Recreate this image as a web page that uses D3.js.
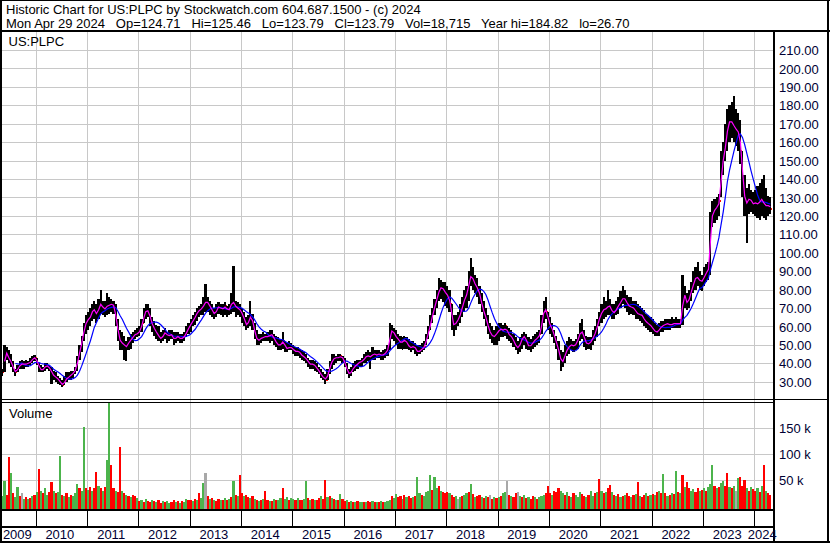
<!DOCTYPE html>
<html>
<head>
<meta charset="utf-8">
<script src="https://cdn.jsdelivr.net/npm/d3@7"></script>
<style>
body { margin: 0; background: #fff; }
svg { display: block; font-family: "Liberation Sans", Arial, sans-serif; font-size: 13px; }
</style>
</head>
<body>
<svg id="chart" width="830" height="543"></svg>
<script>
// semi-monthly bars, first = 1st half of May 2009, last = 2nd half of Apr 2024
var hi = [
  37,50,49,47,45,41,37,39,41,42,41,42,41,43,44,44.5,                       // 2009
  43,40,39,38,40,40,39,38,36,35,33,32,31,33,35,35,36,36,38,44,50,55,62,66, // 2010
  68,70,72,74,72,75,80,74,74,78,76,75,74,72,64,58,57,55,52,54,56,57,58,59, // 2011
  60,64,70,72,72,70,65,63,61,60,57,58,59,57,58,58,57,57,57,56,56,57,60,62, // 2012
  64,66,68,70,71,72,76,83,76,74,72,70,72,73,72,72,73,71,72,78,93,74,73,72, // 2013
  70,68,65,66,74,67,62,58,56,56,57,56,57,58,58,56,55,54,53,57,52,51,52,51, // 2014
  50,49,49,48,47,46,45,43,42,42,41,40,38,37,35,34,37,41,45,45,44,45,45,44, // 2015
  43,40,37,38,40,41,42,42,43,45,46,47,46,49,47,47,47,46,47,48,50,62,61,59, // 2016
  58,56,55,54,55,54,53,52,52,51,50,50,51,52,56,60,66,70,75,80,86,85,84,84, // 2017
  82,80,72,66,66,68,72,76,80,82,90,97,92,88,86,82,78,74,70,66,62,60,58,60, // 2018
  62,62,61,62,60,59,58,56,54,52,54,56,57,56,54,53,55,56,57,58,66,74,76,68, // 2019
  65,62,58,55,52,47,46,50,52,54,53,52,53,56,62,64,58,55,54,54,58,60,64,68, // 2020
  72,76,74,80,75,72,72,74,76,79,82,80,77,76,76,74,74,72,71,70,69,67,66,65, // 2021
  64,62,61,62,63,63,64,64,64,65,64,65,64,64,88,82,78,80,84,90,92,95,90,88, // 2022
  92,94,95,122,128,129,130,132,155,160,170,178,180,182,185,178,176,172,155,142,135,137,134,133, // 2023
  134,136,138,140,142,135,131,130                                          // 2024
];
var lo = [
  33,35,42,40,38,35,33,35,37,37,37,38,38,39,40,41,
  39,35,35,35,36,37,36,29,31,30,29,28,27,28,30,31,31,32,34,36,42,46,52,56,
  58,60,63,64,62,64,67,66,65,66,67,68,67,60,52,47,47,42,41,47,48,51,53,54,
  55,57,62,64,65,60,57,55,53,52,51,52,53,51,52,53,50,51,52,51,51,52,54,56,
  57,60,61,63,65,66,66,68,68,66,65,64,65,67,66,65,66,65,66,67,68,65,66,65,
  62,60,58,59,60,58,53,50,50,51,52,52,52,51,52,50,49,47,47,48,46,46,47,47,
  45,44,44,43,42,41,40,38,37,37,36,35,34,32,31,29,31,34,37,39,40,41,41,40,
  38,34,32,33,35,36,37,38,38,40,40,41,37,42,42,43,43,42,42,43,44,47,53,52,
  50,48,48,47,48,48,47,46,47,45,44,45,46,47,50,53,58,62,66,70,74,75,73,71,
  70,68,58,55,58,60,62,65,68,70,74,82,80,78,76,72,68,64,60,56,53,51,50,50,
  52,54,54,55,53,52,51,49,47,45,46,48,50,48,47,46,48,49,50,51,56,62,64,58,
  56,54,51,48,42,36,38,40,44,45,47,46,47,48,52,53,49,47,48,47,50,52,54,60,
  62,64,65,66,66,64,64,66,67,70,72,70,68,66,67,66,64,64,63,62,60,59,58,57,
  56,55,55,55,57,57,58,58,58,59,59,59,59,59,61,70,69,70,74,78,80,82,80,79,
  82,84,85,88,114,116,118,120,130,142,150,155,160,162,160,158,155,148,130,120,105,121,122,121,
  120,119,118,120,119,118,120,121
];
var cl = [
  35,47,44,42,40,36,35,38,39,40,39,40,40,41,43,43,
  40,37,36,37,39,38,37,34,33,32,31,29,28,31,32,33,34,35,37,43,48,53,60,63,
  64,66,70,68,66,72,72,69,70,72,71,73,70,62,55,50,52,48,50,52,53,55,56,56,
  58,62,67,69,68,63,60,58,56,54,53,56,57,54,56,55,52,55,54,53,54,55,58,60,
  62,64,66,68,69,70,72,74,72,70,68,66,70,71,69,70,71,68,70,74,72,70,70,68,
  66,62,60,64,66,60,55,52,53,54,54,55,54,56,55,52,51,49,51,52,48,48,49,48,
  47,46,47,45,44,43,42,40,39,40,38,37,35,33,32,31,35,39,42,43,43,43,44,42,
  39,35,34,36,38,39,40,41,41,43,44,44,43,46,44,45,45,44,45,46,48,57,58,55,
  54,52,51,52,53,50,49,48,50,47,46,47,48,49,54,58,63,68,72,77,80,82,79,78,
  76,72,62,60,63,64,68,72,76,78,86,88,84,82,80,76,70,67,63,58,56,54,55,57,
  58,59,57,60,56,55,54,51,49,48,52,54,55,50,49,50,52,53,54,56,64,70,68,62,
  60,57,53,50,45,40,42,46,48,50,50,49,51,54,58,56,52,50,51,52,55,57,62,66,
  68,70,69,72,70,67,68,70,72,74,76,74,72,70,71,69,68,66,67,65,63,62,61,60,
  58,57,57,59,60,61,61,62,60,62,61,62,61,62,80,74,72,77,80,85,87,86,84,85,
  88,90,92,118,122,124,125,128,148,152,162,170,172,170,168,166,165,155,135,126,128,130,127,126,
  128,125,130,128,126,125,126,123.79
];
// peak daily volume in each half month, thousands of shares
var volK = [
  20,48,22,94,65,25,18,38,20,25,15,18,14,16,20,22,
  28,72,30,25,35,22,28,46,30,25,28,97,22,20,25,18,22,20,25,42,35,30,152,35,
  32,38,30,35,66,40,35,30,38,89,200,80,35,30,28,114,30,25,22,20,18,22,20,16,
  10,13,9,15,11,8,13,10,8,12,7,10,8,11,7,9,13,8,10,7,11,8,15,12,
  12,10,15,13,25,16,44,65,20,14,16,13,11,15,13,12,16,13,15,18,49,22,20,60,
  25,20,22,18,16,19,14,13,11,12,14,30,13,11,10,14,13,12,16,35,14,18,13,16,
  14,13,16,12,13,14,49,16,13,14,12,13,16,19,14,51,18,20,16,14,13,12,24,14,
  10,13,9,11,8,9,10,8,9,9,8,10,9,11,8,8,9,10,8,9,10,12,20,16,
  24,18,20,15,22,18,20,16,18,20,56,25,22,20,28,30,60,32,57,35,40,30,28,25,
  28,25,22,18,20,15,18,20,22,25,28,42,24,18,20,22,18,16,20,18,22,15,18,16,
  18,20,25,28,49,22,20,18,25,28,20,18,22,16,18,15,20,17,15,18,20,22,25,40,
  25,22,30,28,35,30,25,22,28,20,18,25,22,18,28,24,20,18,22,30,20,26,28,53,
  30,25,28,35,41,28,22,20,24,18,20,22,25,20,18,22,24,46,20,18,22,25,20,22,
  24,22,28,30,26,62,25,20,22,26,24,67,28,25,61,38,46,35,30,33,28,35,30,32,
  35,30,38,42,80,40,35,38,45,49,40,65,38,35,40,30,55,56,40,51,35,30,38,33,
  30,35,28,40,80,30,25,22
];
// g = up, r = down, n = unchanged
var volDir = [
  'ggrrgrggrngrgrgr',
  'grgrggrrgrggrgrgrgggrggr',
  'grgrrgrgrggrrgrrgrgrgrrg',
  'rgrgrrgrgrrgrggrrgrgrggr',
  'rgrgrggnrgrgrrgrgrgrgrgr',
  'rgrrgrgrgrgrrgrgrggrggrg',
  'grgrrggrgrgrrgrrgrgrgrgr',
  'rgrgrgrggrgrrgrgrgrgggrg',
  'grrgrgrrgrggrggggrggrgrr',
  'rgrrgngrggrgrgrrgrgrnrgr',
  'grggnrgrrngrgrgrrgrgggrr',
  'rgrrrggrgrgrgggrrgrggrgr',
  'grgrrgrgrgrgrrgrgrgrrgrg',
  'rgrgrgrgrgrgrgrgrrggrrgr',
  'grgggrgrggrrgrgngrrrgrgr',
  'rgrgrgrr'
].join('').split('');

var priceTicks = d3.range(30, 211, 10);
var volTicks = [50, 100, 150];
var yearLabels = d3.range(2009, 2025);

var header1 = 'Historic Chart for US:PLPC by Stockwatch.com 604.687.1500 - (c) 2024';
var header2 = 'Mon Apr 29 2024   Op=124.71   Hi=125.46   Lo=123.79   Cl=123.79   Vol=18,715   Year hi=184.82   lo=26.70';

var width = 830, height = 543;
var left = 2, axisX = 773;
var priceTop = 32, priceBot = 400, volTop = 403, volBot = 509;

var svg = d3.select('#chart');

var x = d3.scaleTime().domain([new Date(2010, 0, 1), new Date(2024, 0, 1)]).range([35.7, 754.3]);
var y = d3.scaleLinear().domain([30, 210]).range([381.7, 381.7 - 180 * 1.843]);
var yv = d3.scaleLinear().domain([0, 150]).range([506.3, 428.3]);

function periodStart(i) {
    var m = 4 + Math.floor(i / 2);
    return new Date(2009 + Math.floor(m / 12), m % 12, i % 2 ? 16 : 1);
}

var bars = hi.map(function (h, i) {
    return { i: i, t0: periodStart(i), t1: periodStart(i + 1), hi: h, lo: lo[i], cl: cl[i], v: volK[i], dir: volDir[i] };
});

function movAvg(vals, n) {
    return vals.map(function (v, i) {
        return d3.mean(vals.slice(Math.max(0, i - n + 1), i + 1));
    });
}
var maFast = movAvg(cl, 2);
var maSlow = movAvg(cl, 9);

svg.append('rect').attr('width', width).attr('height', height).attr('fill', '#fff');

// clip areas
var defs = svg.append('defs');
defs.append('clipPath').attr('id', 'clipP').append('rect')
    .attr('x', left).attr('y', priceTop).attr('width', axisX - left).attr('height', priceBot - priceTop);
defs.append('clipPath').attr('id', 'clipV').append('rect')
    .attr('x', left).attr('y', volTop).attr('width', axisX - left).attr('height', volBot - volTop);

// grid
var grid = svg.append('g').attr('stroke', '#c8c8c8').attr('stroke-width', 1).attr('shape-rendering', 'crispEdges');
var years = d3.timeYear.range(new Date(2010, 0, 1), new Date(2025, 0, 1));
grid.selectAll('.vg').data(years).enter().append('line')
    .attr('x1', d => Math.round(x(d)) + 0.5).attr('x2', d => Math.round(x(d)) + 0.5)
    .attr('y1', priceTop).attr('y2', volBot);
grid.selectAll('.hg').data(priceTicks).enter().append('line')
    .attr('x1', left).attr('x2', axisX)
    .attr('y1', d => Math.round(y(d)) + 0.5).attr('y2', d => Math.round(y(d)) + 0.5);
grid.selectAll('.hv').data(volTicks).enter().append('line')
    .attr('x1', left).attr('x2', axisX)
    .attr('y1', d => Math.round(yv(d)) + 0.5).attr('y2', d => Math.round(yv(d)) + 0.5);

// price bars: red close ticks stick out to the right, the next bar covers most of them
var pg = svg.append('g').attr('clip-path', 'url(#clipP)');
pg.append('g').attr('shape-rendering', 'crispEdges').selectAll('rect').data(bars).enter().append('rect')
    .attr('x', d => x(d.t1) - 0.5)
    .attr('width', 1.6)
    .attr('y', d => y(d.cl) - 1)
    .attr('height', 2)
    .attr('fill', '#ff0000');
pg.append('g').attr('shape-rendering', 'crispEdges').selectAll('rect').data(bars).enter().append('rect')
    .attr('x', d => x(d.t0))
    .attr('width', d => x(d.t1) - x(d.t0))
    .attr('y', d => y(d.hi))
    .attr('height', d => Math.max(1, y(d.lo) - y(d.hi)))
    .attr('fill', '#000');

var maLine = function (vals, start) {
    return d3.line()
        .defined((d, i) => i >= start)
        .x(d => x(d.t1) - 1)
        .y((d, i) => y(vals[i]));
};
pg.append('path').datum(bars).attr('d', maLine(maSlow, 6))
    .attr('fill', 'none').attr('stroke', '#0000ff').attr('stroke-width', 1.2);
pg.append('path').datum(bars).attr('d', maLine(maFast, 1))
    .attr('fill', 'none').attr('stroke', '#ff00ff').attr('stroke-width', 1.2);

// volume bars
var volColor = { g: '#4cb44c', r: '#ff0000', n: '#a8a8a8' };
svg.append('g').attr('clip-path', 'url(#clipV)').attr('shape-rendering', 'crispEdges')
    .selectAll('rect').data(bars).enter().append('rect')
    .attr('x', d => x(d.t0))
    .attr('width', d => x(d.t1) - x(d.t0))
    .attr('y', d => yv(d.v))
    .attr('height', d => volBot - yv(d.v))
    .attr('fill', d => volColor[d.dir]);

// frame lines
var frame = svg.append('g').attr('fill', '#000').attr('shape-rendering', 'crispEdges');
frame.append('rect').attr('x', 0).attr('y', 0).attr('width', 2).attr('height', height);
frame.append('rect').attr('x', 0).attr('y', 0).attr('width', width).attr('height', 1);
frame.append('rect').attr('x', 827).attr('y', 0).attr('width', 2).attr('height', height);
frame.append('rect').attr('x', 0).attr('y', 541).attr('width', width).attr('height', 2);
frame.append('rect').attr('x', 0).attr('y', 30).attr('width', width).attr('height', 2);
frame.append('rect').attr('x', axisX).attr('y', priceTop).attr('width', 2).attr('height', 541 - priceTop);
frame.append('rect').attr('x', left).attr('y', 399).attr('width', 827 - left).attr('height', 1);
frame.append('rect').attr('x', left).attr('y', 402).attr('width', axisX - left).attr('height', 1);
frame.append('rect').attr('x', left).attr('y', volBot).attr('width', axisX - left).attr('height', 2);
frame.append('rect').attr('x', left).attr('y', 526).attr('width', axisX - left).attr('height', 2);
frame.selectAll('.tk').data(years.filter(d => x(d) < axisX)).enter().append('rect')
    .attr('x', d => Math.round(x(d))).attr('y', volBot).attr('width', 1).attr('height', 526 - volBot);

// right axes
var priceAxis = svg.append('g').attr('transform', `translate(${axisX + 6},0)`)
    .call(d3.axisRight(y).tickValues(priceTicks).tickFormat(d3.format('.2f')).tickSize(0).tickPadding(0));
var volAxis = svg.append('g').attr('transform', `translate(${axisX + 6},0)`)
    .call(d3.axisRight(yv).tickValues(volTicks).tickFormat(d => d + ' k').tickSize(0).tickPadding(0));
[priceAxis, volAxis].forEach(function (a) {
    a.select('.domain').remove();
    a.attr('font-family', null).attr('font-size', null);
    a.selectAll('text').attr('fill', '#000033').attr('dy', '0.36em');
});

// year labels
var bounds = [left].concat(years.map(d => x(d)).filter(v => v < axisX), [axisX]);
svg.append('g').selectAll('text').data(yearLabels).enter().append('text')
    .attr('x', (d, i) => (bounds[i] + bounds[i + 1]) / 2 - 1.5)
    .attr('y', 539)
    .attr('text-anchor', 'middle')
    .attr('fill', '#000033')
    .text(d => d);

// titles
svg.append('text').attr('x', 6).attr('y', 14).style('white-space', 'pre').text(header1);
svg.append('text').attr('x', 6).attr('y', 28).style('white-space', 'pre').text(header2);
svg.append('text').attr('x', 8.5).attr('y', 46).text('US:PLPC');
svg.append('text').attr('x', 9).attr('y', 418).text('Volume');
</script>
</body>
</html>
